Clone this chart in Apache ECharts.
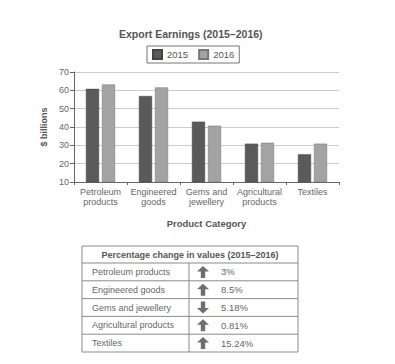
<!DOCTYPE html>
<html><head><meta charset="utf-8">
<script src="https://cdn.jsdelivr.net/npm/echarts@6/dist/echarts.min.js"></script>
<style>html,body{margin:0;padding:0;background:#fff}#c{width:395px;height:364px}</style>
</head><body><div id="c"></div>
<script>
var categories = ['Petroleum\nproducts', 'Engineered\ngoods', 'Gems and\njewellery', 'Agricultural\nproducts', 'Textiles'];
var series2015 = [60.8, 56.9, 42.9, 30.9, 25.1];
var series2016 = [63.2, 61.6, 40.7, 31.4, 30.9];
var yTicks = [10, 20, 30, 40, 50, 60, 70];
var tableTitle = 'Percentage change in values (2015\u20132016)';
var tableRows = ['Petroleum products', 'Engineered goods', 'Gems and jewellery', 'Agricultural products', 'Textiles'];
var tableChanges = ['3%', '8.5%', '5.18%', '0.81%', '15.24%'];
var tableDirections = ['up', 'up', 'down', 'up', 'up'];

var FONT = 'Liberation Sans, Arial, sans-serif';
var chart = echarts.init(document.getElementById('c'), null, {renderer: 'svg'});

var tX0 = 82, tX1 = 298, tY0 = 246, tHead = 263, rowH = 17.8, colX = 189;
var g = [];
var tY1 = tHead + rowH * tableRows.length;
g.push({type: 'rect', shape: {x: tX0, y: tY0, width: tX1 - tX0, height: tY1 - tY0},
  style: {fill: 'none', stroke: '#8a8a8a', lineWidth: 1}});
g.push({type: 'text', x: (tX0 + tX1) / 2, y: (tY0 + tHead) / 2,
  style: {text: tableTitle, font: 'bold 9px ' + FONT, fill: '#555', align: 'center', verticalAlign: 'middle'}});
g.push({type: 'line', shape: {x1: colX, y1: tHead, x2: colX, y2: tY1}, style: {stroke: '#8a8a8a', lineWidth: 1}});
tableRows.forEach(function (r, i) {
  var y = tHead + rowH * i;
  g.push({type: 'line', shape: {x1: tX0, y1: y, x2: tX1, y2: y}, style: {stroke: '#8a8a8a', lineWidth: 1}});
  var cy = y + rowH / 2;
  g.push({type: 'text', x: 92, y: cy, style: {text: r, font: '9px ' + FONT, fill: '#666', verticalAlign: 'middle'}});
  g.push({type: 'text', x: 221, y: cy, style: {text: tableChanges[i], font: '9.5px ' + FONT, fill: '#666', verticalAlign: 'middle'}});
  var up = tableDirections[i] === 'up';
  var ax = 203, h = 6, s = up ? 1 : -1;
  var pts = [[ax, cy - s * h], [ax + 6, cy - s * 0.5], [ax + 2.2, cy - s * 0.5], [ax + 2.2, cy + s * h],
             [ax - 2.2, cy + s * h], [ax - 2.2, cy - s * 0.5], [ax - 6, cy - s * 0.5]];
  g.push({type: 'polygon', shape: {points: pts}, style: {fill: '#6e6e6e'}});
});

chart.setOption({
  animation: false,
  backgroundColor: '#fff',
  textStyle: {fontFamily: FONT},
  title: {text: 'Export Earnings (2015\u20132016)', left: 114, top: 23,
    textStyle: {fontSize: 10.5, fontWeight: 'bold', color: '#555', fontFamily: FONT}},
  legend: {top: 46, left: 147, itemWidth: 9, itemHeight: 9, itemGap: 10, icon: 'rect',
    borderColor: '#777', borderWidth: 1, padding: [3, 5, 3, 5],
    textStyle: {fontSize: 9.5, color: '#555', fontFamily: FONT}, data: ['2015', '2016']},
  grid: {left: 74, right: 56, top: 72, bottom: 182},
  xAxis: {type: 'category', data: categories,
    name: 'Product Category', nameLocation: 'middle', nameGap: 36,
    nameTextStyle: {fontSize: 9.5, fontWeight: 'bold', color: '#555'},
    axisLine: {lineStyle: {color: '#666'}},
    axisTick: {show: true, length: 3, lineStyle: {color: '#666'}},
    axisLabel: {fontSize: 9, color: '#666', lineHeight: 10, interval: 0, margin: 5}},
  yAxis: {type: 'value', min: yTicks[0], max: yTicks[yTicks.length - 1], interval: 10,
    name: '$ billions', nameLocation: 'middle', nameGap: 21, nameRotate: 90,
    nameTextStyle: {fontSize: 9, fontWeight: 'bold', color: '#555'},
    axisLine: {show: true, lineStyle: {color: '#666'}},
    axisTick: {show: true, length: 4, lineStyle: {color: '#666'}},
    axisLabel: {fontSize: 9, color: '#666', margin: 5},
    splitLine: {lineStyle: {color: '#ccc'}}},
  series: [
    {name: '2015', type: 'bar', data: series2015, barGap: '22%', barCategoryGap: '45%',
      itemStyle: {color: '#5a5a5a', borderColor: '#444', borderWidth: 0.5}},
    {name: '2016', type: 'bar', data: series2016,
      itemStyle: {color: '#a3a3a3', borderColor: '#777', borderWidth: 0.5}}
  ],
  graphic: g
});
</script></body></html>
